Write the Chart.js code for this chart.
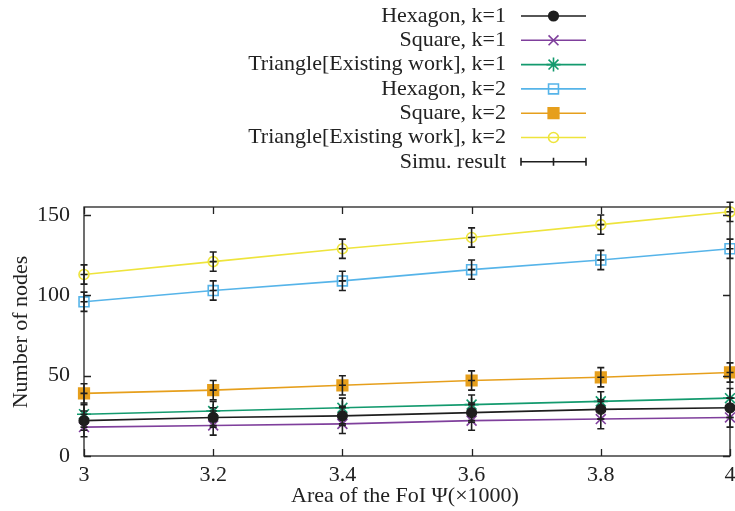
<!DOCTYPE html>
<html>
<head>
<meta charset="utf-8">
<script src="https://cdn.jsdelivr.net/npm/chart.js@4/dist/chart.umd.min.js"></script>
<style>
  html, body { margin: 0; padding: 0; background: #fff; }
  #c { display: block; }
</style>
</head>
<body>
<canvas id="c" width="735" height="511"></canvas>
<script>
// x 轴: FoI 面积 (×1000)
const areas = [3, 3.2, 3.4, 3.6, 3.8, 4];
const xTicks = [3, 3.2, 3.4, 3.6, 3.8, 4];
const yTicks = [0, 50, 100, 150];

// 理论值
const hexagonK1 = [22, 24, 25, 27, 29, 30];
const squareK1 = [18, 19, 20, 22, 23, 24];
const triangleK1 = [26, 28, 30, 32, 34, 36];
const hexagonK2 = [96, 103, 109, 116, 122, 129];
const squareK2 = [39, 41, 44, 47, 49, 52];
const triangleK2 = [113, 121, 129, 136, 144, 152];

// 仿真结果 (均值 ± 误差)
const simuHexK1 = [22, 24, 25, 27, 29, 30];
const simuSqK1 = [18, 19, 20, 22, 23, 24];
const simuTriK1 = [26, 28, 30, 32, 34, 36];
const simuHexK2 = [96, 103, 109, 116, 122, 129];
const simuSqK2 = [39, 41, 44, 47, 49, 52];
const simuTriK2 = [113, 121, 129, 136, 144, 152];
const simuErr = [6, 6, 6, 6, 6, 6];

const FONT = '"Liberation Serif", "DejaVu Serif", serif';
const FS = 22;
const pts = arr => arr.map((v, i) => ({ x: areas[i], y: v }));

function line(label, arr, color, style, radius, filled) {
  return {
    label: label,
    data: pts(arr),
    borderColor: color,
    backgroundColor: filled ? color : 'transparent',
    pointStyle: style,
    pointRadius: radius,
    pointHoverRadius: radius,
    pointBorderColor: color,
    pointBackgroundColor: filled ? color : 'transparent',
    pointBorderWidth: 1.6,
    borderWidth: 1.6,
    tension: 0,
    clip: false
  };
}

const datasets = [
  line('Hexagon, k=1', hexagonK1, '#1e1e1e', 'circle', 4.8, true),
  line('Square, k=1', squareK1, '#7f3f9c', 'crossRot', 7, false),
  line('Triangle[Existing work], k=1', triangleK1, '#139a6e', 'star', 7, false),
  line('Hexagon, k=2', hexagonK2, '#56b4e9', 'rect', 7, false),
  line('Square, k=2', squareK2, '#e69f1c', 'rect', 7.5, true),
  line('Triangle[Existing work], k=2', triangleK2, '#eee43c', 'circle', 5, false)
];

const simuSets = [simuHexK1, simuSqK1, simuTriK1, simuHexK2, simuSqK2, simuTriK2];

// 误差棒、边框、刻度、图例、轴标题
const gnuplotLook = {
  id: 'gnuplotLook',
  afterDatasetsDraw(chart) {
    const ctx = chart.ctx, xs = chart.scales.x, ys = chart.scales.y;
    ctx.save();
    ctx.strokeStyle = '#1e1e1e';
    ctx.lineWidth = 1.6;
    simuSets.forEach(arr => {
      arr.forEach((v, i) => {
        const px = xs.getPixelForValue(areas[i]);
        const top = ys.getPixelForValue(v + simuErr[i]);
        const bot = ys.getPixelForValue(v - simuErr[i]);
        const py = ys.getPixelForValue(v);
        ctx.beginPath();
        ctx.moveTo(px, top); ctx.lineTo(px, bot);
        ctx.moveTo(px - 3.5, top); ctx.lineTo(px + 3.5, top);
        ctx.moveTo(px - 3.5, bot); ctx.lineTo(px + 3.5, bot);
        ctx.moveTo(px - 3.5, py); ctx.lineTo(px + 3.5, py);
        ctx.stroke();
      });
    });
    ctx.restore();
  },
  afterDraw(chart) {
    const ctx = chart.ctx, a = chart.chartArea, xs = chart.scales.x, ys = chart.scales.y;
    ctx.save();
    // 边框
    ctx.strokeStyle = '#222';
    ctx.lineWidth = 1.3;
    ctx.strokeRect(a.left, a.top, a.right - a.left, a.bottom - a.top);
    // 内向刻度
    ctx.beginPath();
    xTicks.forEach(t => {
      const px = Math.round(xs.getPixelForValue(t)) + 0.5;
      ctx.moveTo(px, a.bottom); ctx.lineTo(px, a.bottom - 7);
      ctx.moveTo(px, a.top); ctx.lineTo(px, a.top + 7);
    });
    yTicks.forEach(t => {
      const py = Math.round(ys.getPixelForValue(t)) + 0.5;
      ctx.moveTo(a.left, py); ctx.lineTo(a.left + 7, py);
      ctx.moveTo(a.right, py); ctx.lineTo(a.right - 7, py);
    });
    ctx.stroke();

    ctx.fillStyle = '#222';
    ctx.font = FS + 'px ' + FONT;
    ctx.textAlign = 'center';
    ctx.textBaseline = 'middle';
    // x 刻度标签
    xTicks.forEach(t => {
      ctx.fillText(String(t), xs.getPixelForValue(t), a.bottom + 19);
    });
    // 轴标题
    ctx.fillText('Area of the FoI \u03A8(\u00D71000)', 405, 496);
    ctx.save();
    ctx.translate(21, 332);
    ctx.rotate(-Math.PI / 2);
    ctx.fillText('Number of nodes', 0, 0);
    ctx.restore();

    // 图例
    const textX = 506, x0 = 521, x1 = 586, xm = 553.5;
    const rowY = i => 16 + i * 24.3;
    ctx.textAlign = 'right';
    chart.data.datasets.forEach((ds, i) => {
      const y = rowY(i);
      ctx.fillStyle = '#222';
      ctx.fillText(ds.label, textX, y);
      ctx.strokeStyle = ds.borderColor;
      ctx.lineWidth = 1.6;
      ctx.beginPath();
      ctx.moveTo(x0, y); ctx.lineTo(x1, y);
      ctx.stroke();
      ctx.fillStyle = ds.pointBackgroundColor;
      ctx.strokeStyle = ds.pointBorderColor;
      Chart.helpers.drawPoint(ctx, { pointStyle: ds.pointStyle, radius: ds.pointRadius, borderWidth: 1.6 }, xm, y);
    });
    // Simu. result
    const y = rowY(6);
    ctx.fillStyle = '#222';
    ctx.fillText('Simu. result', textX, y);
    ctx.strokeStyle = '#1e1e1e';
    ctx.lineWidth = 1.6;
    ctx.beginPath();
    ctx.moveTo(x0, y); ctx.lineTo(x1, y);
    ctx.moveTo(x0, y - 4); ctx.lineTo(x0, y + 4);
    ctx.moveTo(x1, y - 4); ctx.lineTo(x1, y + 4);
    ctx.moveTo(xm, y - 4); ctx.lineTo(xm, y + 4);
    ctx.stroke();
    ctx.restore();
  }
};

new Chart(document.getElementById('c'), {
  type: 'line',
  data: { datasets: datasets },
  options: {
    responsive: false,
    animation: false,
    layout: { autoPadding: false, padding: { top: 207, right: 5, left: 0, bottom: 0 } },
    plugins: { legend: { display: false }, tooltip: { enabled: false } },
    scales: {
      x: {
        type: 'linear',
        min: 3,
        max: 4,
        afterBuildTicks: s => { s.ticks = xTicks.map(v => ({ value: v })); },
        afterFit: s => { s.height = 55; },
        grid: { display: false, drawTicks: false },
        border: { display: false },
        ticks: { display: false }
      },
      y: {
        min: 0,
        max: 155,
        afterBuildTicks: s => { s.ticks = yTicks.map(v => ({ value: v })); },
        afterFit: s => { s.width = 84; },
        grid: { display: false, drawTicks: false },
        border: { display: false },
        ticks: {
          color: '#222',
          padding: 14,
          font: { family: FONT, size: FS }
        }
      }
    }
  },
  plugins: [gnuplotLook]
});
</script>
</body>
</html>
